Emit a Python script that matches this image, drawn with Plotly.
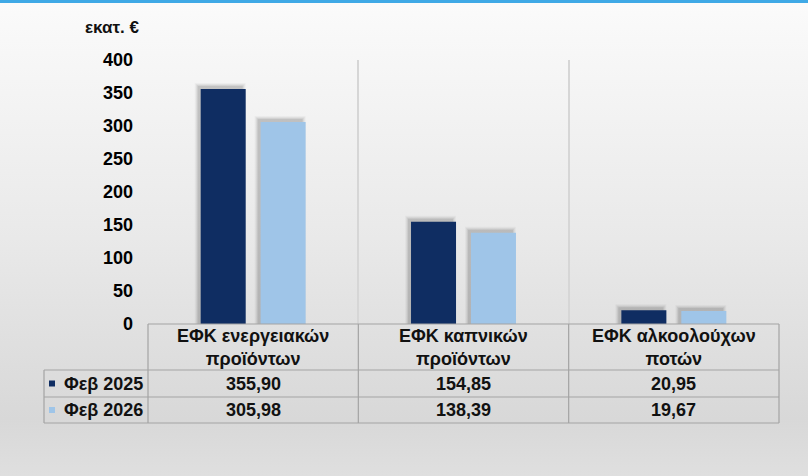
import base64
import plotly.graph_objects as go

# ---------------- data ----------------
categories = ["ΕΦΚ ενεργειακών<br>προϊόντων", "ΕΦΚ καπνικών<br>προϊόντων", "ΕΦΚ αλκοολούχων<br>ποτών"]
series_names = ["Φεβ 2025", "Φεβ 2026"]
feb_2025 = [355.90, 154.85, 20.95]
feb_2026 = [305.98, 138.39, 19.67]
y_ticks = [0, 50, 100, 150, 200, 250, 300, 350, 400]
y_unit_label = "εκατ. €"

# ---------------- styles ----------------
W, H = 808, 476
L, R, T, B = 148, 29, 60, 152
PW, PH = W - L - R, H - T - B
colors = ["#0f2d62", "#9fc5e8"]
FONT = "Liberation Sans, Arial, sans-serif"
BAR_W = 0.214
BAR_GAP = 0.071
offsets = [-BAR_W - BAR_GAP / 2, BAR_GAP / 2]
series = [feb_2025, feb_2026]
n = len(categories)
x_idx = list(range(n))
ymax = 400

def px_x(px):  # pixel -> paper x
    return (px - L) / PW

def px_y(py):  # pixel -> paper y
    return (T + PH - py) / PH

x_unit_px = PW / n          # pixels per category
y_unit_px = PH / ymax       # pixels per y unit

fig = go.Figure()

# soft shadows (offset up-left, blurred via layers)
sh_dx, sh_dy = 3.0, 3.0
for vals, off in zip(series, offsets):
    for spread, alpha in [(3, 0.03), (2, 0.045), (1, 0.06), (0, 0.08)]:
        fig.add_trace(go.Bar(
            x=x_idx,
            y=[v + (sh_dy + spread) / y_unit_px for v in vals],
            base=0,
            width=BAR_W + 2 * spread / x_unit_px,
            offset=off - (sh_dx + spread) / x_unit_px,
            marker=dict(color=f"rgba(0,0,0,{alpha})", line=dict(width=0)),
            hoverinfo="skip", showlegend=False,
        ))

for name, vals, off, c in zip(series_names, series, offsets, colors):
    fig.add_trace(go.Bar(
        x=x_idx, y=vals, name=name, width=BAR_W, offset=off,
        marker=dict(color=c, line=dict(width=0)), showlegend=False,
    ))

# ---------------- background gradient ----------------
svg = f"""<svg xmlns='http://www.w3.org/2000/svg' width='{W}' height='{H}' preserveAspectRatio='none'>
<defs><linearGradient id='g' x1='0' y1='0' x2='0' y2='1'>
<stop offset='0' stop-color='#fbfbfb'/>
<stop offset='0.5' stop-color='#e9e9e9'/>
<stop offset='0.88' stop-color='#d8d8d8'/>
<stop offset='1' stop-color='#dfdfdf'/>
</linearGradient></defs>
<rect width='{W}' height='{H}' fill='url(#g)'/>
<rect width='{W}' height='3' fill='#3fa9e6'/>
</svg>"""
src = "data:image/svg+xml;base64," + base64.b64encode(svg.encode()).decode()

shapes = []
line_col = "#a3a3a3"
row_y = [324, 370, 397, 423]
col_x = [L + i * x_unit_px for i in range(n + 1)]
leg_left = 44
# horizontal table lines
shapes.append(dict(type="line", xref="paper", yref="paper", x0=px_x(L), x1=px_x(col_x[-1]),
                   y0=px_y(row_y[0]), y1=px_y(row_y[0]), line=dict(color=line_col, width=1.2)))
for ry in row_y[1:]:
    shapes.append(dict(type="line", xref="paper", yref="paper", x0=px_x(leg_left), x1=px_x(col_x[-1]),
                       y0=px_y(ry), y1=px_y(ry), line=dict(color=line_col, width=1.2)))
# vertical table lines
shapes.append(dict(type="line", xref="paper", yref="paper", x0=px_x(leg_left), x1=px_x(leg_left),
                   y0=px_y(row_y[1]), y1=px_y(row_y[3]), line=dict(color=line_col, width=1.2)))
for cx in col_x:
    shapes.append(dict(type="line", xref="paper", yref="paper", x0=px_x(cx), x1=px_x(cx),
                       y0=px_y(row_y[0]), y1=px_y(row_y[3]), line=dict(color=line_col, width=1.2)))

annotations = []
txt_font = dict(family=FONT, size=18, color="#111111")
# header (category labels)
for i, cat in enumerate(categories):
    annotations.append(dict(x=i, y=px_y((row_y[0] + row_y[1]) / 2), xref="x", yref="paper",
                            text=f"<b>{cat}</b>", showarrow=False, font=txt_font,
                            xanchor="center", yanchor="middle", align="center"))
# value rows + legend keys
for r, (name, vals, c) in enumerate(zip(series_names, series, colors)):
    yc = (row_y[r + 1] + row_y[r + 2]) / 2
    for i, v in enumerate(vals):
        annotations.append(dict(x=i, y=px_y(yc), xref="x", yref="paper",
                                text="<b>" + f"{v:.2f}".replace(".", ",") + "</b>",
                                showarrow=False, font=txt_font, xanchor="center", yanchor="middle"))
    annotations.append(dict(x=px_x(62), y=px_y(yc), xref="paper", yref="paper",
                            text=f"<b>{name}</b>", showarrow=False, font=txt_font,
                            xanchor="left", yanchor="middle"))
    shapes.append(dict(type="rect", xref="paper", yref="paper",
                       x0=px_x(49), x1=px_x(55), y0=px_y(yc - 3), y1=px_y(yc + 3),
                       fillcolor=c, line=dict(width=0)))

annotations.append(dict(x=px_x(141), y=px_y(27), xref="paper", yref="paper",
                        text=f"<b>{y_unit_label}</b>", showarrow=False,
                        font=dict(family=FONT, size=17, color="#111111"),
                        xanchor="right", yanchor="middle"))

fig.update_layout(
    width=W, height=H,
    margin=dict(l=L, r=R, t=T, b=B, pad=0),
    barmode="overlay",
    paper_bgcolor="#eeeeee",
    plot_bgcolor="rgba(0,0,0,0)",
    showlegend=False,
    images=[dict(source=src, xref="paper", yref="paper", x=px_x(0), y=px_y(0),
                 sizex=W / PW, sizey=H / PH, sizing="stretch", xanchor="left",
                 yanchor="top", layer="below")],
    shapes=shapes,
    annotations=annotations,
    xaxis=dict(range=[-0.5, n - 0.5], tickmode="array",
               tickvals=[i - 0.5 for i in range(n + 1)], showticklabels=False,
               showgrid=True, gridcolor="#d6d6d6", gridwidth=1.5, zeroline=False,
               showline=False, ticks=""),
    yaxis=dict(range=[0, ymax], tickmode="array", tickvals=y_ticks,
               ticktext=[f"<b>{t}</b>" for t in y_ticks], showgrid=False,
               zeroline=False, showline=False, ticks="", ticklabelstandoff=14,
               tickfont=dict(family=FONT, size=18, color="#000000")),
)

fig.write_html("out.html", config={"displayModeBar": False},
               post_script="document.body.style.margin='0';")
